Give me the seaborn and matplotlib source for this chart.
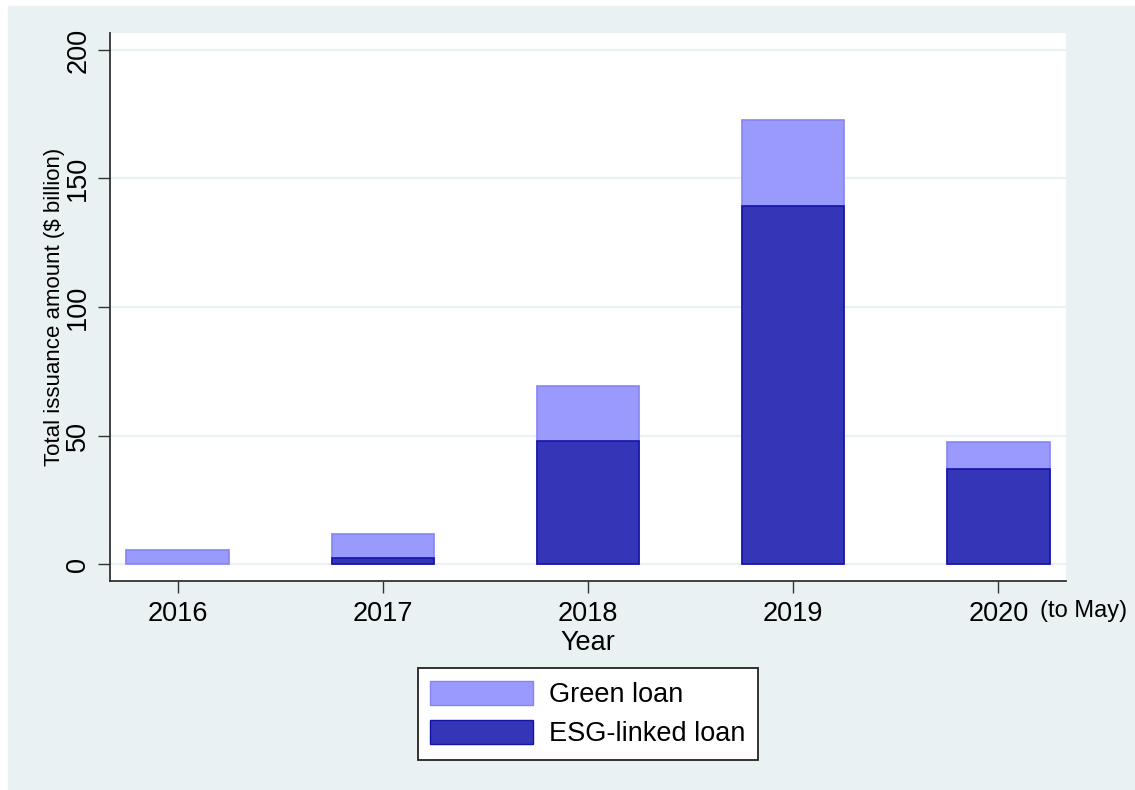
import numpy as np
import pandas as pd
import matplotlib
matplotlib.use("Agg")
import matplotlib.pyplot as plt
from matplotlib.patches import Patch, Rectangle
import seaborn as sns

# Values (US$ billion)
years = ["2016", "2017", "2018", "2019", "2020"]
esg_linked = [0.0, 2.3, 48.0, 139.2, 37.0]
green_loan = [5.5, 9.4, 21.4, 33.5, 10.6]
y_ticks = [0, 50, 100, 150, 200]

GREEN_FILL, GREEN_EDGE = "#9A9AFD", "#8585F2"
ESG_FILL, ESG_EDGE = "#3535B8", "#1414A8"
BG = "#EAF1F3"

sns.set_theme(style="white")
plt.rcParams["font.family"] = ["Liberation Sans", "DejaVu Sans"]
plt.rcParams["text.color"] = "black"
plt.rcParams["axes.labelcolor"] = "black"
plt.rcParams["xtick.color"] = "black"
plt.rcParams["ytick.color"] = "black"

df = pd.DataFrame({"year": years, "esg": esg_linked, "green": green_loan})
df["total"] = df["esg"] + df["green"]

fig = plt.figure(figsize=(11.35, 7.9), dpi=100, facecolor="white")
fig.patches.append(Rectangle((8 / 1135, 0), 1126 / 1135, 784 / 790,
                             transform=fig.transFigure, color=BG, zorder=-10))
ax = fig.add_axes([110 / 1135, 1 - 581 / 790, 956 / 1135, 548 / 790])
ax.set_facecolor("white")

for y in y_ticks:
    ax.axhline(y, color=BG, lw=1.6, zorder=0)

sns.barplot(data=df, x="year", y="total", color=GREEN_FILL, width=0.5,
            edgecolor=GREEN_EDGE, linewidth=1.2, saturation=1, ax=ax, zorder=2)
sns.barplot(data=df, x="year", y="esg", color=ESG_FILL, width=0.5,
            edgecolor=ESG_EDGE, linewidth=1.2, saturation=1, ax=ax, zorder=3)

# no outline for empty bars (2016 has no ESG-linked issuance)
for p in ax.patches:
    if p.get_height() == 0:
        p.set_visible(False)

ax.set_xlim(-0.33, 4.33)
ax.set_ylim(-6.6, 206.6)
ax.set_yticks(y_ticks)
ax.set_yticklabels([str(v) for v in y_ticks], rotation=90, va="center", fontsize=19.5)
ax.tick_params(axis="x", labelsize=19.5, length=8.5, width=1.0, color="#333333", pad=6, direction="out")
ax.tick_params(axis="y", length=8.5, width=1.0, color="#333333", pad=5, direction="out")
ax.tick_params(bottom=True, left=True)

for s in ["top", "right"]:
    ax.spines[s].set_visible(False)
for s in ["left", "bottom"]:
    ax.spines[s].set_color("#333333")
    ax.spines[s].set_linewidth(1.3)

ax.set_xlabel("Year", fontsize=19.5, labelpad=2)
ax.set_ylabel("Total issuance amount ($ billion)", fontsize=16, labelpad=0)

fig.text(1040 / 1135, 1 - 611 / 790, "(to May)", fontsize=17, va="center", ha="left")

handles = [Patch(facecolor=GREEN_FILL, edgecolor=GREEN_EDGE, label="Green loan"),
           Patch(facecolor=ESG_FILL, edgecolor=ESG_EDGE, label="ESG-linked loan")]
leg = fig.legend(handles=handles, loc="center", bbox_to_anchor=(588 / 1135, 1 - 714 / 790),
                 fontsize=19.5, frameon=True, fancybox=False, framealpha=1,
                 handlelength=3.8, handleheight=1.0, handletextpad=0.6,
                 labelspacing=0.45, borderpad=0.45, borderaxespad=0)
leg.get_frame().set_edgecolor("#222222")
leg.get_frame().set_linewidth(1.3)

fig.savefig("out.png", dpi=100, facecolor="white")
